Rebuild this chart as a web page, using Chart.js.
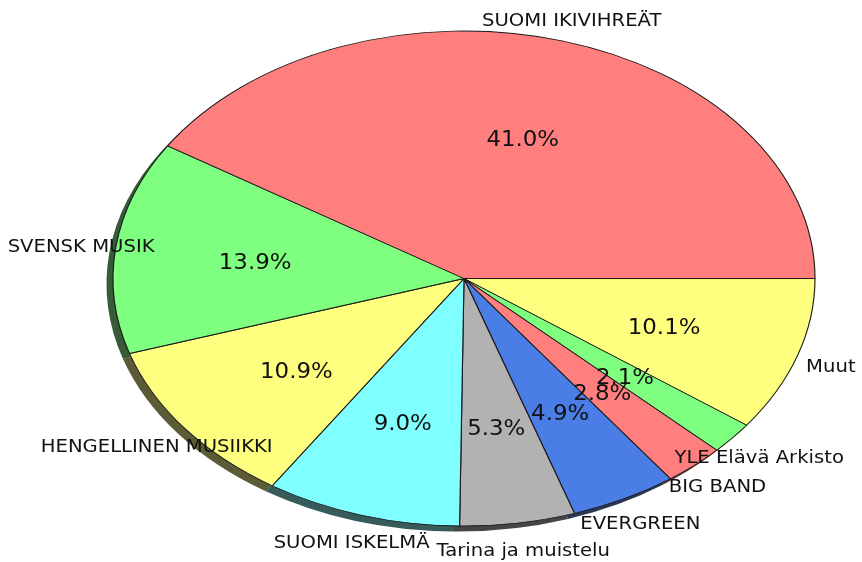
<!DOCTYPE html>
<html><head><meta charset="utf-8">
<script src="https://cdn.jsdelivr.net/npm/chart.js@4"></script>
<style>html,body{margin:0;padding:0;background:#fff}canvas{display:block}</style>
</head><body>
<canvas id="c" width="862" height="562"></canvas>
<script>
// Data (matplotlib order, counter-clockwise from 3 o'clock)
const categories = ['SUOMI IKIVIHREÄT','SVENSK MUSIK','HENGELLINEN MUSIIKKI','SUOMI ISKELMÄ','Tarina ja muistelu','EVERGREEN','BIG BAND','YLE Elävä Arkisto','Muut'];
const shares = [41.0, 13.9, 10.9, 9.0, 5.3, 4.9, 2.8, 2.1, 10.1];
const colors = ['#ff7f7f','#7fff7f','#ffff7f','#7fffff','#b2b2b2','#4b7de6','#ff7f7f','#7fff7f','#ffff7f'];

const R = 247.5, SX = 351 / 247.5;
const SHADOW_DX = -6.5, SHADOW_DY = 5.5;
const LABEL_FS = 18, PCT_FS = 21, TEXT_STRETCH = 1.09;

// Chart.js draws clockwise; reverse so the order runs counter-clockwise from 3 o'clock
const revLabels = categories.slice().reverse();
const revValues = shares.slice().reverse();
const revColors = colors.slice().reverse();

function shadowColor(hex){
  const n = parseInt(hex.slice(1),16);
  const r = Math.round(((n>>16)&255)*0.3), g = Math.round(((n>>8)&255)*0.3), b = Math.round((n&255)*0.3);
  return 'rgba('+r+','+g+','+b+',0.92)';
}
function drawText(ctx, t, px, py, fs){
  ctx.save();
  ctx.font = fs + 'px "DejaVu Sans"';
  ctx.fillStyle = '#111';
  ctx.textAlign = 'center';
  ctx.textBaseline = 'alphabetic';
  ctx.translate(px, py + 0.365*fs + 2);
  ctx.scale(TEXT_STRETCH, 1);
  ctx.fillText(t, 0, 0);
  ctx.restore();
}

const ellipsePlugin = {
  id: 'ellipse',
  beforeDatasetsDraw(chart){
    const ctx = chart.ctx;
    const arcs = chart.getDatasetMeta(0).data;
    const c = arcs[0].getProps(['x','y'], true);
    ctx.save();
    ctx.translate(c.x, c.y); ctx.scale(SX, 1); ctx.translate(-c.x, -c.y);
    arcs.forEach((a, j) => {
      const p = a.getProps(['x','y','startAngle','endAngle','outerRadius'], true);
      ctx.save();
      ctx.translate(SHADOW_DX / SX, SHADOW_DY);
      ctx.beginPath();
      ctx.moveTo(p.x, p.y);
      ctx.arc(p.x, p.y, p.outerRadius, p.startAngle, p.endAngle);
      ctx.closePath();
      ctx.fillStyle = shadowColor(revColors[j]);
      ctx.fill();
      ctx.restore();
    });
  },
  afterDatasetsDraw(chart){
    const ctx = chart.ctx;
    ctx.restore();
    const arcs = chart.getDatasetMeta(0).data;
    arcs.forEach((a, j) => {
      const p = a.getProps(['x','y','startAngle','endAngle','outerRadius'], true);
      const mid = (p.startAngle + p.endAngle) / 2;
      const ux = Math.cos(mid) * p.outerRadius * SX, uy = Math.sin(mid) * p.outerRadius;
      drawText(ctx, revValues[j].toFixed(1) + '%', p.x + 0.6*ux, p.y + 0.6*uy, PCT_FS);
    });
    arcs.forEach((a, j) => {
      const p = a.getProps(['x','y','startAngle','endAngle','outerRadius'], true);
      const mid = (p.startAngle + p.endAngle) / 2;
      const ux = Math.cos(mid) * p.outerRadius * SX, uy = Math.sin(mid) * p.outerRadius;
      drawText(ctx, revLabels[j], p.x + 1.1*ux, p.y + 1.1*uy, LABEL_FS);
    });
  }
};

new Chart(document.getElementById('c'), {
  type: 'pie',
  data: {
    labels: revLabels,
    datasets: [{
      data: revValues,
      backgroundColor: revColors,
      borderColor: '#1a1a1a',
      borderWidth: 0.8,
      radius: R,
      clip: false
    }]
  },
  options: {
    responsive: false,
    animation: false,
    rotation: 90,
    layout: { padding: { left: 216.5, right: 150.5, top: 31, bottom: 36 } },
    plugins: { legend: { display: false }, tooltip: { enabled: false } }
  },
  plugins: [ellipsePlugin]
});
</script>
</body></html>
